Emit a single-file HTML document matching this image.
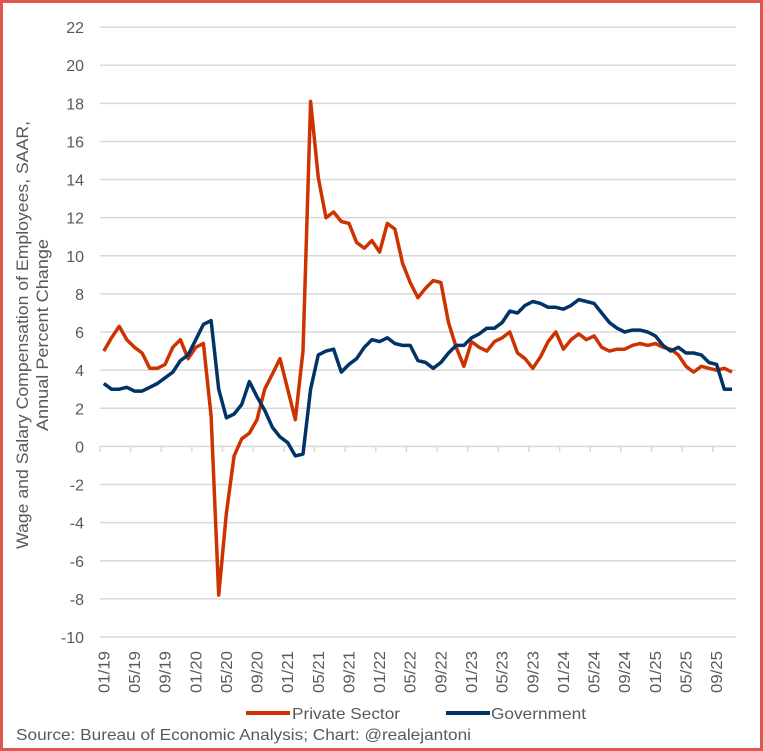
<!DOCTYPE html>
<html><head><meta charset="utf-8"><style>
body{margin:0;background:#fff}
svg{display:block}
text{font-family:"Liberation Sans Narrow","Liberation Sans",sans-serif;fill:#595959}
</style></head><body>
<svg width="763" height="751" viewBox="0 0 763 751" xmlns="http://www.w3.org/2000/svg">
<rect x="1.5" y="1.5" width="760" height="748" fill="#fff" stroke="#e0574f" stroke-width="3"/>
<g id="grid" stroke="#d9d9d9" stroke-width="1.5"></g>
<g id="ylab" font-size="16" text-anchor="end"></g>
<g id="xlab" font-size="15.5"></g>
<g id="ticks" stroke="#d9d9d9" stroke-width="1.5"></g>
<polyline id="priv" fill="none" stroke="#cc3300" stroke-width="3.5" stroke-linejoin="round"/>
<polyline id="gov" fill="none" stroke="#003366" stroke-width="3.5" stroke-linejoin="round"/>
<text transform="translate(28,335) rotate(-90)" font-size="16.5" text-anchor="middle" textLength="428" lengthAdjust="spacingAndGlyphs">Wage and Salary Compensation of Employees, SAAR,</text>
<text transform="translate(48,335) rotate(-90)" font-size="16.5" text-anchor="middle" textLength="192" lengthAdjust="spacingAndGlyphs">Annual Percent Change</text>
<line x1="246" y1="713" x2="290" y2="713" stroke="#cc3300" stroke-width="4"/>
<text x="292" y="719" font-size="16" textLength="108" lengthAdjust="spacingAndGlyphs">Private Sector</text>
<line x1="446" y1="713" x2="490" y2="713" stroke="#003366" stroke-width="4"/>
<text x="491" y="719" font-size="16" textLength="95" lengthAdjust="spacingAndGlyphs">Government</text>
<text x="16" y="740" font-size="16" textLength="455" lengthAdjust="spacingAndGlyphs">Source: Bureau of Economic Analysis; Chart: @realejantoni</text>
</svg>
<script>
const NS="http://www.w3.org/2000/svg";
const y=v=>446.4-19.06*v, x=i=>100+7.66*(i+0.5);
const g=document.getElementById('grid'),yl=document.getElementById('ylab'),xl=document.getElementById('xlab'),tk=document.getElementById('ticks');
for(let v=-10;v<=22;v+=2){let l=document.createElementNS(NS,'line');l.setAttribute('x1',100);l.setAttribute('x2',736);l.setAttribute('y1',y(v));l.setAttribute('y2',y(v));g.appendChild(l);
let t=document.createElementNS(NS,'text');t.setAttribute('x',84);t.setAttribute('y',y(v)+6);t.textContent=v;yl.appendChild(t);}
for(let i=0;i<=83;i+=4){let l=document.createElementNS(NS,'line');let xx=100+7.66*i;l.setAttribute('x1',xx);l.setAttribute('x2',xx);l.setAttribute('y1',446);l.setAttribute('y2',452);tk.appendChild(l);}
const mm=['01','05','09'];
for(let k=0;k<21;k++){let i=k*4;let yr=19+Math.floor(i/12);let lab=mm[k%3]+'/'+yr;let t=document.createElementNS(NS,'text');t.setAttribute('transform',`translate(${x(i)+5.5},${693}) rotate(-90)`);t.setAttribute('textLength','42');t.setAttribute('lengthAdjust','spacingAndGlyphs');t.textContent=lab;xl.appendChild(t);}
const P=[5.0,5.7,6.3,5.6,5.2,4.9,4.1,4.1,4.3,5.2,5.6,4.6,5.2,5.4,1.6,-7.8,-3.5,-0.5,0.4,0.7,1.4,3.0,3.8,4.6,3.0,1.4,5.0,18.1,14.1,12.0,12.3,11.8,11.7,10.7,10.4,10.8,10.2,11.7,11.4,9.6,8.6,7.8,8.3,8.7,8.6,6.5,5.2,4.2,5.5,5.2,5.0,5.5,5.7,6.0,4.9,4.6,4.1,4.7,5.5,6.0,5.1,5.6,5.9,5.6,5.8,5.2,5.0,5.1,5.1,5.3,5.4,5.3,5.4,5.2,5.1,4.8,4.2,3.9,4.2,4.1,4.0,4.1,3.9];
const G=[3.3,3.0,3.0,3.1,2.9,2.9,3.1,3.3,3.6,3.9,4.5,4.8,5.6,6.4,6.6,3.0,1.5,1.7,2.2,3.4,2.6,1.9,1.0,0.5,0.2,-0.5,-0.4,3.0,4.8,5.0,5.1,3.9,4.3,4.6,5.2,5.6,5.5,5.7,5.4,5.3,5.3,4.5,4.4,4.1,4.4,4.9,5.3,5.3,5.7,5.9,6.2,6.2,6.5,7.1,7.0,7.4,7.6,7.5,7.3,7.3,7.2,7.4,7.7,7.6,7.5,7.0,6.5,6.2,6.0,6.1,6.1,6.0,5.8,5.3,5.0,5.2,4.9,4.9,4.8,4.4,4.3,3.0,3.0];
document.getElementById('priv').setAttribute('points',P.map((v,i)=>x(i).toFixed(1)+','+y(v).toFixed(1)).join(' '));
document.getElementById('gov').setAttribute('points',G.map((v,i)=>x(i).toFixed(1)+','+y(v).toFixed(1)).join(' '));
</script>
</body></html>
